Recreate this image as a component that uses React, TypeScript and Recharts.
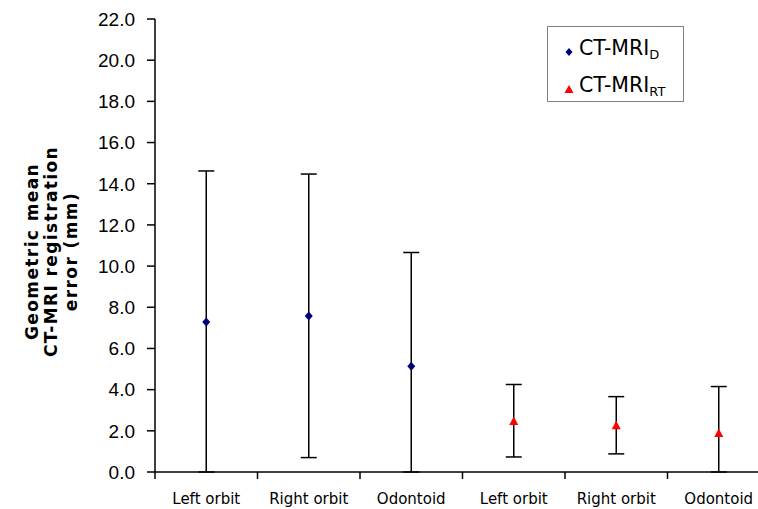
import { ComposedChart, Line, XAxis, YAxis, ErrorBar } from 'recharts';

const categories = ['Left orbit', 'Right orbit', 'Odontoid', 'Left orbit', 'Right orbit', 'Odontoid'];
const groups = ['D', 'D', 'D', 'RT', 'RT', 'RT'];
const means = [7.28, 7.58, 5.14, 2.45, 2.25, 1.87];
const upper = [14.62, 14.47, 10.66, 4.25, 3.66, 4.15];
const lower = [0.0, 0.7, 0.0, 0.73, 0.88, 0.0];
const yTicks = [0, 2, 4, 6, 8, 10, 12, 14, 16, 18, 20, 22];

// x positions: category i sits in the middle of slot [i, i+1]
const xTicks = categories.flatMap((_, i) => [i, i + 0.5]).concat([categories.length]);

const data = categories.map((cat, i) => {
  const err = [means[i] - lower[i], upper[i] - means[i]];
  const isD = groups[i] === 'D';
  return {
    pos: i + 0.5,
    cat,
    d: isD ? means[i] : null,
    dErr: isD ? err : null,
    rt: isD ? null : means[i],
    rtErr: isD ? null : err,
  };
});

const Diamond = (props: any) => {
  const { cx, cy } = props;
  if (cx == null || cy == null) return <g key={props.index} />;
  return <path key={props.index} d={`M${cx},${cy - 4.5}L${cx + 4},${cy}L${cx},${cy + 4.5}L${cx - 4},${cy}Z`} fill="#000080" />;
};

const Triangle = (props: any) => {
  const { cx, cy } = props;
  if (cx == null || cy == null) return <g key={props.index} />;
  return <path key={props.index} d={`M${cx},${cy - 5}L${cx + 4.5},${cy + 3.5}L${cx - 4.5},${cy + 3.5}Z`} fill="#FF0000" />;
};

// whole numbers are slot boundaries (tick marks), halves carry the category name
const XTick = (props: any) => {
  const { x, y, payload } = props;
  const v = payload.value;
  if (Number.isInteger(v)) {
    return <line x1={x} y1={y} x2={x} y2={y + 7} stroke="#000" strokeWidth={1.5} />;
  }
  return (
    <text x={x} y={y + 32} textAnchor="middle" fontFamily="'DejaVu Sans', Verdana, sans-serif" fontSize={15} fill="#000">
      {categories[Math.floor(v)]}
    </text>
  );
};

const YTick = (props: any) => {
  const { x, y, payload } = props;
  return (
    <text x={x} y={y} dy="0.36em" textAnchor="end" fontFamily="'Liberation Sans', Arial, sans-serif" fontSize={19} fill="#000">
      {payload.value.toFixed(1)}
    </text>
  );
};

const YLabel = (props: any) => {
  const { viewBox } = props;
  const cy = viewBox.y + viewBox.height / 2 + 6;
  const lines = ['Geometric mean', 'CT-MRI registration', 'error (mm)'];
  return (
    <text
      transform={`translate(57,${cy}) rotate(-90)`}
      textAnchor="middle"
      fontFamily="'DejaVu Sans', Verdana, sans-serif"
      fontWeight="bold"
      fontSize={17}
      letterSpacing={1.4}
      fill="#000"
    >
      {lines.map((l, i) => (
        <tspan key={i} x={0} y={(i - 1) * 19.5}>
          {l}
        </tspan>
      ))}
    </text>
  );
};

const legendText = { fontFamily: "'DejaVu Sans', Verdana, sans-serif", fontSize: 20.5, color: '#000' };
const subStyle = { fontSize: 13, verticalAlign: '-4px' };

export default function App() {
  return (
    <div style={{ position: 'absolute', left: 0, top: 0, width: 758, height: 509, overflow: 'hidden', background: '#fff' }}>
      <ComposedChart width={780} height={509} data={data} margin={{ top: 19, right: 10, bottom: 0, left: 0 }}>
        <XAxis
          dataKey="pos"
          type="number"
          domain={[0, categories.length]}
          ticks={xTicks}
          interval={0}
          height={37}
          tickLine={false}
          tickSize={0}
          tickMargin={0}
          stroke="#000"
          strokeWidth={1.5}
          tick={<XTick />}
        />
        <YAxis
          domain={[0, 22]}
          ticks={yTicks}
          width={155}
          tickSize={8}
          tickMargin={12}
          stroke="#000"
          strokeWidth={1.5}
          tick={<YTick />}
          label={{ content: <YLabel /> }}
        />
        <Line dataKey="d" stroke="none" dot={Diamond} activeDot={false} isAnimationActive={false}>
          <ErrorBar dataKey="dErr" width={8} stroke="#000" strokeWidth={1.5} />
        </Line>
        <Line dataKey="rt" stroke="none" dot={Triangle} activeDot={false} isAnimationActive={false}>
          <ErrorBar dataKey="rtErr" width={8} stroke="#000" strokeWidth={1.5} />
        </Line>
      </ComposedChart>
      <div
        style={{
          position: 'absolute',
          left: 547,
          top: 26,
          width: 137,
          height: 76,
          border: '1px solid #808080',
          boxSizing: 'border-box',
          background: '#fff',
        }}
      >
        <div style={{ position: 'absolute', left: 16, top: 9, display: 'flex', alignItems: 'center', ...legendText }}>
          <svg width={10} height={10} style={{ marginRight: 5, marginTop: 6 }}>
            <path d="M5,1L8.5,5L5,9L1.5,5Z" fill="#000080" />
          </svg>
          <span>
            CT-MRI<sub style={subStyle}>D</sub>
          </span>
        </div>
        <div style={{ position: 'absolute', left: 16, top: 46, display: 'flex', alignItems: 'center', ...legendText }}>
          <svg width={10} height={10} style={{ marginRight: 5, marginTop: 6 }}>
            <path d="M5,1L9.5,9L0.5,9Z" fill="#FF0000" />
          </svg>
          <span>
            CT-MRI<sub style={subStyle}>RT</sub>
          </span>
        </div>
      </div>
    </div>
  );
}
